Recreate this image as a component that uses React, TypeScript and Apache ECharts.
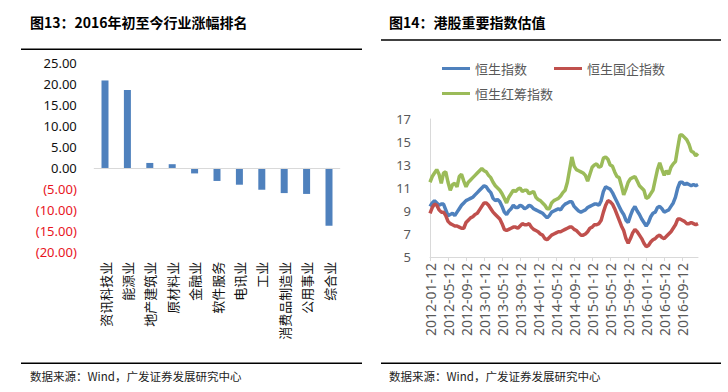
import React, { useEffect, useRef } from "react";
import * as echarts from "echarts";

// ---------- Figure 13: industry returns since start of 2016 ----------
const industries = [
  "资讯科技业", "能源业", "地产建筑业", "原材料业", "金融业", "软件服务",
  "电讯业", "工业", "消费品制造业", "公用事业", "综合业",
];
const industryReturns = [20.9, 18.6, 1.2, 0.9, -1.3, -3.1, -4.0, -5.2, -6.0, -6.2, -13.8];

// ---------- Figure 14: HK index valuations (PE) ----------
const years = ["2012", "2013", "2014", "2015", "2016"];
const months = ["01", "02", "03", "04", "05", "06", "07", "08", "09", "10", "11", "12"];
const days = ["12", "27"];
const dates: string[] = [];
years.forEach((y) => months.forEach((m) => days.forEach((d) => dates.push(`${y}-${m}-${d}`))));

const hsiPE = [
  9.4, 9.7, 9.9, 9.7, 9.5, 9.6, 9.6, 9.1, 8.6, 8.7, 8.8, 8.6, 8.9, 9.2, 9.5, 9.7, 9.9, 10.0, 10.1, 10.2,
  10.4, 10.6, 10.8, 11.0, 11.2, 11.1, 10.8, 10.6, 10.1, 9.9, 10.0, 9.8, 9.4, 8.9, 8.7, 9.0, 9.2, 9.5, 9.3, 9.3,
  9.5, 9.4, 9.2, 9.3, 9.5, 9.4, 9.2, 9.1, 9.0, 8.9, 8.8, 8.6, 8.4, 8.6, 8.9, 9.0, 9.1, 9.2, 9.1, 9.4,
  9.6, 9.7, 9.8, 9.8, 9.4, 9.2, 9.0, 8.9, 9.0, 9.1, 9.3, 9.4, 9.5, 9.6, 9.6, 9.5, 9.9, 10.7, 11.1, 11.0,
  10.9, 10.6, 10.2, 9.8, 9.4, 9.0, 8.7, 8.2, 8.0, 8.6, 9.1, 9.4, 9.0, 8.7, 8.3, 8.0, 7.7, 8.0, 8.5, 8.8,
  8.9, 9.3, 9.4, 9.2, 8.9, 9.0, 9.1, 9.4, 9.7, 10.2, 11.0, 11.5, 11.5, 11.3, 11.4, 11.3, 11.2, 11.3, 11.2, 11.3,
];
const hsceiPE = [
  8.8, 9.3, 9.6, 9.5, 9.1, 8.9, 8.9, 8.6, 8.1, 7.9, 7.8, 7.7, 7.7, 7.6, 7.5, 7.5, 8.0, 8.2, 8.4, 8.5,
  8.7, 8.8, 9.1, 9.4, 9.7, 9.7, 9.5, 9.2, 8.9, 8.7, 8.5, 8.3, 7.9, 7.4, 7.3, 7.4, 7.5, 7.6, 7.6, 7.5,
  7.7, 7.9, 7.8, 7.8, 7.9, 7.6, 7.4, 7.3, 7.2, 7.0, 6.9, 6.6, 6.5, 6.7, 6.9, 7.0, 7.1, 7.2, 7.2, 7.3,
  7.4, 7.5, 7.6, 7.6, 7.4, 7.3, 7.1, 6.9, 6.9, 7.0, 7.2, 7.5, 7.6, 7.8, 7.8, 7.9, 8.2, 8.9, 9.5, 9.9,
  9.8, 9.6, 9.2, 8.7, 8.2, 7.7, 7.3, 6.6, 6.2, 6.6, 7.1, 7.4, 7.2, 6.9, 6.6, 6.2, 5.9, 6.0, 6.3, 6.5,
  6.6, 6.8, 6.9, 6.7, 6.6, 6.8, 7.0, 7.2, 7.5, 7.8, 8.3, 8.3, 8.2, 8.1, 7.9, 7.9, 8.0, 7.9, 7.8, 7.9,
];
const hscciPE = [
  11.5, 12.0, 12.3, 12.6, 12.2, 11.4, 12.3, 12.4, 11.5, 10.8, 11.3, 11.4, 11.1, 12.0, 12.2, 11.6, 11.1, 11.5, 11.7, 11.9,
  12.1, 12.3, 12.5, 12.7, 12.5, 12.4, 12.1, 11.9, 11.5, 11.2, 11.0, 10.8, 10.5, 10.1, 9.7, 10.2, 10.5, 10.8, 10.7, 10.9,
  11.0, 10.7, 10.8, 10.8, 10.5, 10.6, 10.7, 10.2, 10.0, 9.9, 9.7, 9.5, 9.2, 9.2, 9.7, 9.9, 10.0, 10.1, 10.3, 10.6,
  10.8, 11.5, 12.6, 13.7, 12.9, 12.6, 12.5, 12.4, 12.3, 12.1, 11.6, 12.2, 12.8, 13.0, 13.1, 12.8, 12.9, 13.6, 13.7, 13.5,
  13.0, 12.9, 12.4, 12.0, 11.9, 11.2, 10.4, 10.9, 11.5, 11.8, 11.9, 12.0, 11.6, 11.2, 11.0, 10.8, 10.1, 10.2, 10.5, 10.8,
  11.7, 12.6, 13.2, 12.6, 12.1, 12.5, 12.2, 12.8, 13.1, 13.3, 14.5, 15.6, 15.6, 15.4, 15.2, 14.8, 14.2, 14.1, 13.8, 14.0,
];

const seriesNames = ["恒生指数", "恒生国企指数", "恒生红筹指数"];
const seriesColors = ["#4F81BD", "#C0504D", "#9BBB59"];

const CJK = "'Noto Sans CJK SC', 'Noto Sans', sans-serif";
const NUM = "'Noto Sans', 'Noto Sans CJK SC', sans-serif";

export default function App() {
  const ref = useRef<HTMLDivElement>(null);

  useEffect(() => {
    if (!ref.current) return;
    const chart = echarts.init(ref.current, undefined, { renderer: "svg" });

    const titleStyle = (text: string) => ({
      text,
      fill: "#000",
      fontSize: 14,
      fontWeight: "bold",
      fontFamily: CJK,
      verticalAlign: "middle",
      textVerticalAlign: "middle",
    });
    const footStyle = {
      text: "数据来源：Wind，广发证券发展研究中心",
      fill: "#222",
      fontSize: 11.5,
      fontFamily: CJK,
      verticalAlign: "middle",
      textVerticalAlign: "middle",
    };
    const rule = (x1: number, x2: number, y: number) => ({
      type: "line",
      shape: { x1, y1: y, x2, y2: y },
      style: { stroke: "#000", lineWidth: 1.5 },
      silent: true,
    });

    chart.setOption({
      animation: false,
      backgroundColor: "#fff",
      textStyle: { fontFamily: NUM },
      grid: [
        { left: 93.8, top: 63.3, width: 246.4, height: 188.4 },
        { left: 430, top: 119, width: 268, height: 138 },
      ],
      xAxis: [
        {
          gridIndex: 0,
          type: "category",
          data: industries,
          axisLine: { show: false },
          axisTick: { show: false },
          axisLabel: { rotate: 90, margin: 10, fontSize: 13, color: "#111", fontFamily: CJK, interval: 0 },
        },
        {
          gridIndex: 1,
          type: "category",
          data: dates,
          boundaryGap: false,
          axisLine: { lineStyle: { color: "#D9D9D9", width: 1 } },
          axisTick: { interval: 7, length: 4, lineStyle: { color: "#D9D9D9" } },
          axisLabel: { interval: 7, rotate: 90, margin: 6, fontSize: 14, color: "#595959", fontFamily: NUM },
        },
      ],
      yAxis: [
        {
          gridIndex: 0,
          type: "value",
          min: -20,
          max: 25,
          interval: 5,
          splitLine: { show: false },
          axisLine: { show: false },
          axisTick: { show: false },
          axisLabel: {
            margin: 17,
            fontSize: 13,
            formatter: (v: number) =>
              v < 0 ? `{n|(${Math.abs(v).toFixed(2)})}` : `{p|${v.toFixed(2)}}`,
            rich: {
              n: { color: "#E8141E", fontSize: 13, fontFamily: NUM },
              p: { color: "#111", fontSize: 13, fontFamily: NUM },
            },
          },
        },
        {
          gridIndex: 1,
          type: "value",
          min: 5,
          max: 17,
          interval: 2,
          splitLine: { show: false },
          axisLine: { show: true, lineStyle: { color: "#D9D9D9", width: 1 } },
          axisTick: { show: false },
          axisLabel: { margin: 19, fontSize: 13, color: "#595959" },
        },
      ],
      legend: [
        {
          data: [seriesNames[0], seriesNames[1]],
          left: 442,
          top: 62,
          padding: 0,
          icon: "rect",
          itemWidth: 28,
          itemHeight: 3,
          itemGap: 27,
          itemTextGap: 2,
          textStyle: { fontSize: 13, color: "#595959", fontFamily: CJK },
        },
        {
          data: [seriesNames[2]],
          left: 442,
          top: 87,
          padding: 0,
          icon: "rect",
          itemWidth: 28,
          itemHeight: 3,
          itemTextGap: 2,
          textStyle: { fontSize: 13, color: "#595959", fontFamily: CJK },
        },
      ],
      series: [
        {
          type: "bar",
          xAxisIndex: 0,
          yAxisIndex: 0,
          data: industryReturns,
          barWidth: 7,
          itemStyle: { color: "#4F81BD" },
          markLine: {
            silent: true,
            symbol: "none",
            label: { show: false },
            lineStyle: { color: "#D9D9D9", width: 1, type: "solid" },
            data: [{ yAxis: 0 }],
          },
        },
        ...[hsiPE, hsceiPE, hscciPE].map((d, i) => ({
          name: seriesNames[i],
          type: "line",
          xAxisIndex: 1,
          yAxisIndex: 1,
          data: d,
          showSymbol: false,
          symbol: "none",
          lineStyle: { color: seriesColors[i], width: 3.5 },
          itemStyle: { color: seriesColors[i] },
        })),
      ],
      graphic: [
        { type: "text", x: 30, y: 21.7, style: titleStyle("图13：2016年初至今行业涨幅排名"), silent: true },
        { type: "text", x: 389, y: 21.7, style: titleStyle("图14：港股重要指数估值"), silent: true },
        rule(21, 362, 49.3),
        rule(381, 721, 40),
        rule(21, 362, 363.3),
        rule(381, 721, 363.3),
        { type: "text", x: 30, y: 376, style: { ...footStyle }, silent: true },
        { type: "text", x: 389, y: 376, style: { ...footStyle }, silent: true },
      ],
    });

    return () => chart.dispose();
  }, []);

  return (
    <div
      ref={ref}
      style={{ position: "fixed", left: 0, top: 0, width: 728, height: 392, background: "#fff" }}
    />
  );
}
